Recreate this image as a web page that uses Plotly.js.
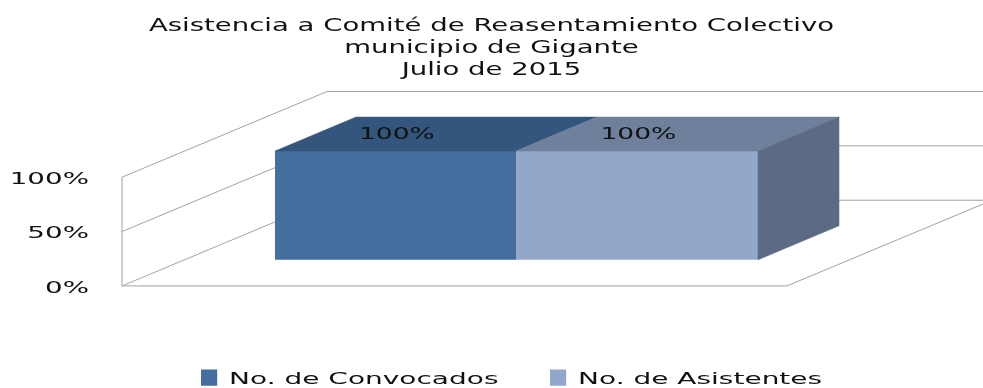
<!DOCTYPE html>
<html>
<head>
<meta charset="utf-8">
<script src="https://cdn.plot.ly/plotly-3.0.1.min.js"></script>
<style>html,body{margin:0;padding:0;background:#fff;overflow:hidden}
#chart{filter:blur(0.45px)}</style>
</head>
<body>
<div id="chart" style="width:983px;height:388px"></div>
<script>
var titleLines = ['Asistencia a Comité de Reasentamiento Colectivo', 'municipio de Gigante', 'Julio de 2015'];
var categories = ['No. de Convocados', 'No. de Asistentes'];
var values = [100, 100];
var tickValues = [0, 50, 100];
var tickLabels = ['0%', '50%', '100%'];
var dataLabels = ['100%', '100%'];
var frontColors = ['#456E9F', '#93A7CB'];
var topColors = ['#34557C', '#6E809C'];
var sideColor = '#5D6A83';
var wallColor = '#A3A3A3';

// oblique projection of the 3-D box, in axis units
var xMin = -0.0015, xMax = 1.2947, yMin = -1, yMax = 184.8;
var wallDx = 0.3083, wallDy = 78.8;
var barDx = 0.1218, barDy = 31.3;
var barBase = 24;
var barEdges = [0.2301, 0.5925, 0.9564];
var fontName = '"DejaVu Sans", sans-serif';

function wall(xs, ys) {
  var path = xs.map(function (x, i) { return (i ? 'L' : 'M') + x + ',' + ys[i]; }).join(' ');
  return {type: 'path', path: path, xref: 'x', yref: 'y', layer: 'below', line: {color: wallColor, width: 1}};
}
function face(xs, ys, color) {
  return {x: xs, y: ys, type: 'scatter', mode: 'lines', fill: 'toself', fillcolor: color, showlegend: false,
          hoverinfo: 'skip', line: {color: color, width: 0.5}};
}

var walls = [];
tickValues.forEach(function (v) {
  walls.push(wall([0, wallDx, xMax], [v, v + wallDy, v + wallDy]));
});
walls.push(wall([0, 0], [tickValues[0], tickValues[2]]));
walls.push(wall([0, 1, 1 + wallDx], [0, 0, wallDy]));

var traces = [];
categories.forEach(function (name, i) {
  var x0 = barEdges[i], x1 = barEdges[i + 1], top = barBase + values[i];
  traces.push(face([x0, x1, x1 + barDx, x0 + barDx, x0], [top, top, top + barDy, top + barDy, top], topColors[i]));
});
var last = categories.length - 1, sideX = barEdges[last + 1];
traces.push(face([sideX, sideX + barDx, sideX + barDx, sideX, sideX],
  [barBase, barBase + barDy, barBase + values[last] + barDy, barBase + values[last], barBase], sideColor));

categories.forEach(function (name, i) {
  traces.push({type: 'bar', name: name, x: [(barEdges[i] + barEdges[i + 1]) / 2], y: [values[i]], base: [barBase],
    width: [barEdges[i + 1] - barEdges[i]], marker: {color: frontColors[i], line: {width: 0}}, hoverinfo: 'skip'});
});
traces.push({type: 'scatter', mode: 'text', showlegend: false, hoverinfo: 'skip', cliponaxis: false,
  x: categories.map(function (c, i) { return (barEdges[i] + barEdges[i + 1]) / 2 + 0.002; }),
  y: values.map(function (v) { return barBase + v + 14.7; }),
  text: dataLabels, textposition: 'middle center', textfont: {family: fontName, size: 15, color: '#111'}});

var layout = {
  width: 983, height: 388,
  margin: {l: 121, r: 0, t: 85, b: 101.4, autoexpand: false},
  paper_bgcolor: '#fff', plot_bgcolor: '#fff',
  barmode: 'overlay',
  shapes: walls,
  title: {text: titleLines.join('<br>'), x: 0.5, xanchor: 'center', xref: 'container', y: 0.92, yanchor: 'top',
          font: {family: fontName, size: 17, color: '#111'}},
  xaxis: {visible: false, range: [xMin, xMax], fixedrange: true},
  yaxis: {range: [yMin, yMax], tickvals: tickValues, ticktext: tickLabels, showgrid: false, zeroline: false,
          showline: false, ticks: '', ticklabelstandoff: 31, tickfont: {family: fontName, size: 15, color: '#111'},
          fixedrange: true},
  legend: {orientation: 'h', x: 0.079, xanchor: 'left', y: -0.365, yanchor: 'top', entrywidth: 304,
           entrywidthmode: 'pixels', font: {family: fontName, size: 16, color: '#111'}, traceorder: 'normal'},
  showlegend: true
};

function stretch(sel, s, dy) {
  document.querySelectorAll(sel).forEach(function (el) {
    var X = parseFloat(el.getAttribute('x')) || 0;
    var t = el.getAttribute('transform') || '';
    el.setAttribute('transform', 'translate(0,' + (dy || 0) + ') ' + t + ' translate(' + X + ',0) scale(' + s + ',1) translate(' + (-X) + ',0)');
  });
}

Plotly.newPlot('chart', traces, layout, {displayModeBar: false, responsive: false}).then(function () {
  stretch('.gtitle', 1.62);
  stretch('.ytick text', 1.85, 1.5);
  stretch('.textpoint text', 1.77);
  stretch('.legendtext', 1.75);
  document.querySelectorAll('.legendpoints path').forEach(function (el) {
    el.setAttribute('transform', (el.getAttribute('transform') || '') + ' scale(1.35)');
  });
});
</script>
</body>
</html>
